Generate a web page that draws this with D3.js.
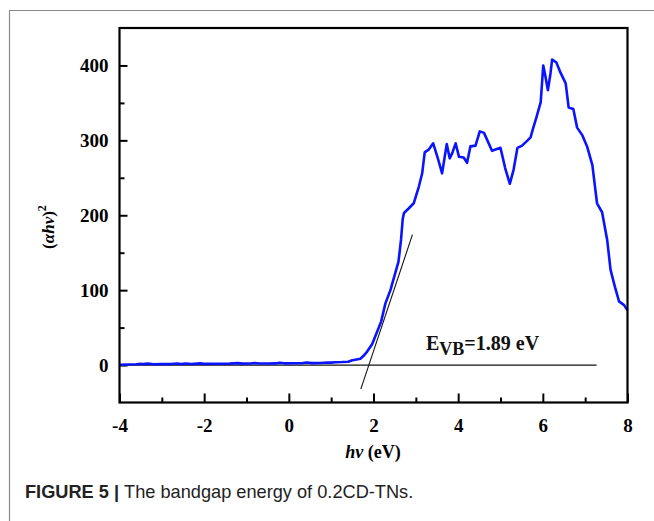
<!DOCTYPE html>
<html>
<head>
<meta charset="utf-8">
<script src="https://cdn.jsdelivr.net/npm/d3@7/dist/d3.min.js"></script>
<style>
  html, body { margin: 0; padding: 0; background: #fff; }
  svg { display: block; }
</style>
</head>
<body>
<svg id="chart" width="654" height="521"></svg>
<script>
// Photon energy (eV) and (αhν)² readings of the Tauc plot
const hv = [
  -4.00, -3.80, -3.60, -3.50, -3.45, -3.33, -3.20, -3.00, -2.80, -2.63,
  -2.55, -2.43, -2.30, -2.10, -2.00, -1.80, -1.60, -1.40, -1.20, -1.10,
  -0.90, -0.80, -0.70, -0.50, -0.30, -0.23, -0.10, 0.10, 0.30, 0.42,
  0.55, 0.75, 0.90, 1.00, 1.10, 1.25, 1.40, 1.50, 1.60, 1.69,
  1.76, 1.85, 1.97, 2.09, 2.18, 2.28, 2.40, 2.50, 2.59, 2.65,
  2.69, 2.72, 2.83, 2.95, 3.07, 3.15, 3.21, 3.31, 3.41, 3.52,
  3.62, 3.73, 3.80, 3.86, 3.94, 4.02, 4.13, 4.21, 4.29, 4.41,
  4.51, 4.61, 4.80, 5.00, 5.11, 5.22, 5.31, 5.40, 5.51, 5.64,
  5.71, 5.77, 5.85, 5.95, 6.01, 6.05, 6.12, 6.18, 6.22, 6.32,
  6.42, 6.54, 6.61, 6.72, 6.81, 6.93, 7.05, 7.17, 7.28, 7.40,
  7.52, 7.60, 7.70, 7.80, 7.92, 8.00
];
const ahv2 = [
  0.5, 0.8, 1.0, 1.8, 1.2, 1.9, 1.0, 1.2, 1.3, 2.0,
  1.4, 2.1, 1.5, 2.2, 1.6, 1.7, 1.8, 1.9, 2.6, 1.9,
  2.0, 2.8, 2.0, 2.1, 2.2, 3.0, 2.3, 2.4, 2.5, 3.3,
  2.6, 2.8, 3.4, 3.2, 3.8, 4.0, 4.5, 6.5, 7.5, 8.5,
  12, 18, 28, 45, 58, 82, 100, 120, 138, 167,
  195, 203, 209, 216, 238, 256, 284, 288, 296, 276,
  256, 295, 276, 283, 296, 278, 277, 270, 292, 293,
  312, 310, 286, 290, 263, 242, 261, 290, 293, 300,
  304, 316, 331, 351, 400, 389, 367, 389, 408, 404,
  390, 376, 344, 342, 317, 307, 291, 267, 216, 204,
  167, 127, 105, 85, 80, 73
];

// Band-edge extrapolation
const bandgap = 1.89;          // eV, intercept of the tangent with the baseline
const tangentSlope = 169;      // (αhν)² per eV along the absorption edge
const tangentEnds = [1.70, 2.92];
const baselineEnd = 7.27;

// Axis ticks
const xMajor = [-4, -2, 0, 2, 4, 6, 8];
const xMinor = [-3, -1, 1, 3, 5, 7];
const yMajor = [0, 100, 200, 300, 400];
const yMinor = [50, 150, 250, 350];

const svg = d3.select("#chart");

// Page frame lines and caption
svg.append("path")
  .attr("d", "M9.5,521 V10.5 H654")
  .attr("fill", "none")
  .attr("stroke", "#8a8a8a")
  .attr("stroke-width", 1.2);

const cap = svg.append("text")
  .attr("x", 25).attr("y", 498)
  .attr("font-family", "'Liberation Sans', Arial, sans-serif")
  .attr("font-size", 18.2)
  .attr("fill", "#222");
cap.append("tspan").attr("font-weight", "bold").text("FIGURE 5 | ");
cap.append("tspan").text("The bandgap energy of 0.2CD-TNs.");

const x = d3.scaleLinear().domain([-4, 8]).range([119.5, 627.5]);
const y = d3.scaleLinear().domain([-50, 450]).range([402.5, 28]);

const serif = "'Liberation Serif', 'Times New Roman', serif";

// Bottom axis: major and minor ticks pointing inward
const gx = svg.append("g").attr("transform", `translate(0,${y(-50)})`);
gx.call(d3.axisBottom(x).tickValues(xMajor).tickSize(-9).tickPadding(16)
  .tickFormat(d => d < 0 ? "-" + Math.abs(d) : d));
svg.append("g").attr("transform", `translate(0,${y(-50)})`)
  .call(d3.axisBottom(x).tickValues(xMinor).tickSize(-5).tickFormat(""))
  .call(g => g.select(".domain").remove())
  .selectAll("line").attr("stroke-width", 2);

// Left axis
const gy = svg.append("g").attr("transform", `translate(${x(-4)},0)`);
gy.call(d3.axisLeft(y).tickValues(yMajor).tickSize(-8).tickPadding(11));
svg.append("g").attr("transform", `translate(${x(-4)},0)`)
  .call(d3.axisLeft(y).tickValues(yMinor).tickSize(-5).tickFormat(""))
  .call(g => g.select(".domain").remove())
  .selectAll("line").attr("stroke-width", 2);

[gx, gy].forEach(g => {
  g.select(".domain").remove();
  g.selectAll("line").attr("stroke", "#000").attr("stroke-width", 2);
  g.selectAll("text")
    .attr("font-family", serif)
    .attr("font-size", 19)
    .attr("font-weight", "bold")
    .attr("fill", "#000");
});

// Baseline at zero
svg.append("line")
  .attr("x1", x(-4)).attr("x2", x(baselineEnd))
  .attr("y1", y(0)).attr("y2", y(0))
  .attr("stroke", "#111").attr("stroke-width", 1.2);

// Spectrum
const pts = hv.map((v, i) => [v, ahv2[i]]);
svg.append("path")
  .datum(pts)
  .attr("fill", "none")
  .attr("stroke", "#0a14ff")
  .attr("stroke-width", 2.6)
  .attr("stroke-linejoin", "round")
  .attr("d", d3.line().x(d => x(d[0])).y(d => y(d[1])));

// Tangent to the absorption edge
svg.append("line")
  .attr("x1", x(tangentEnds[0])).attr("y1", y(tangentSlope * (tangentEnds[0] - bandgap)))
  .attr("x2", x(tangentEnds[1])).attr("y2", y(tangentSlope * (tangentEnds[1] - bandgap)))
  .attr("stroke", "#111").attr("stroke-width", 1.1);

// Frame around the plot area
svg.append("rect")
  .attr("x", x(-4)).attr("y", y(450))
  .attr("width", x(8) - x(-4)).attr("height", y(-50) - y(450))
  .attr("fill", "none").attr("stroke", "#000").attr("stroke-width", 2.2);

// Band-gap annotation
const ann = svg.append("text")
  .attr("x", 426).attr("y", 350)
  .attr("font-family", serif).attr("font-weight", "bold")
  .attr("font-size", 20).attr("fill", "#111");
ann.append("tspan").text("E");
ann.append("tspan").attr("font-size", 18).attr("dy", 5).text("VB");
ann.append("tspan").attr("dy", -5).text(`=${bandgap} eV`);

// Axis titles
const xt = svg.append("text")
  .attr("x", 373).attr("y", 458)
  .attr("text-anchor", "middle")
  .attr("font-family", serif).attr("font-weight", "bold")
  .attr("font-size", 18).attr("fill", "#000");
xt.append("tspan").attr("font-style", "italic").text("hv");
xt.append("tspan").text(" (eV)");

const yt = svg.append("text")
  .attr("transform", "translate(54,227) rotate(-90)")
  .attr("text-anchor", "middle")
  .attr("font-family", serif).attr("font-weight", "bold")
  .attr("font-size", 17).attr("fill", "#000");
yt.append("tspan").text("(");
yt.append("tspan").attr("font-style", "italic").text("αhv");
yt.append("tspan").text(")");
yt.append("tspan").attr("font-size", 12).attr("dy", -8).text("2");
</script>
</body>
</html>
